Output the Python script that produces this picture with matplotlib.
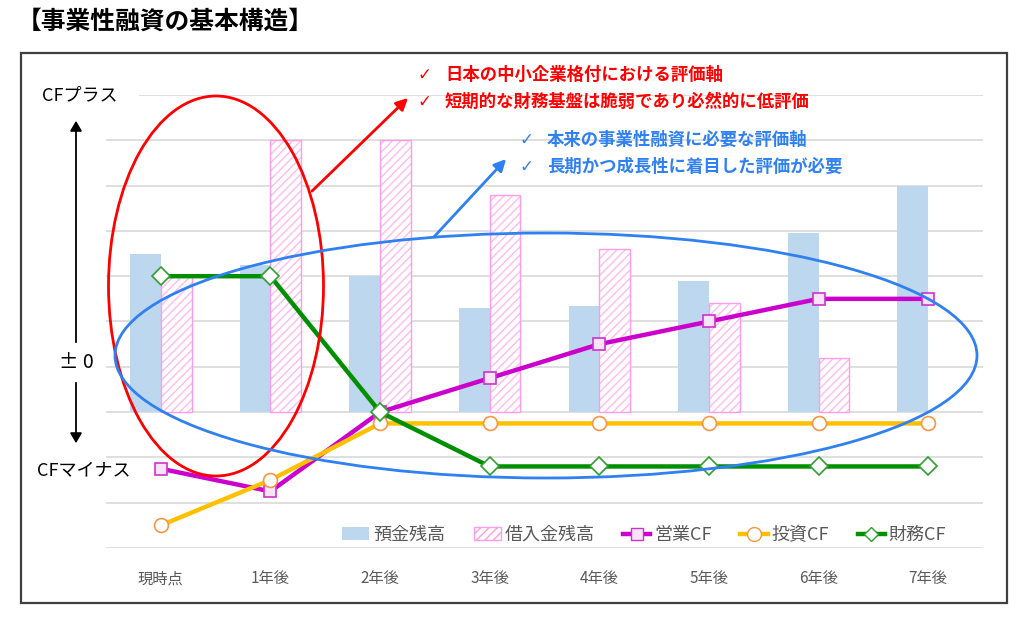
import matplotlib
matplotlib.use("Agg")
import matplotlib.pyplot as plt
import numpy as np
from matplotlib.patches import Ellipse, Rectangle, Patch, FancyArrowPatch
from matplotlib.lines import Line2D

plt.rcParams['font.family'] = ['Noto Sans CJK JP', 'DejaVu Sans']
plt.rcParams['hatch.linewidth'] = 1.0

# ---- data ----
categories = ['現時点', '1年後', '2年後', '3年後', '4年後', '5年後', '6年後', '7年後']
deposits = [3.5, 3.25, 3.0, 2.3, 2.35, 2.9, 3.95, 5.0]
borrowings = [3.0, 6.0, 6.0, 4.8, 3.6, 2.4, 1.2, 0.0]
operating_cf = [-1.25, -1.75, 0.0, 0.75, 1.5, 2.0, 2.5, 2.5]
investing_cf = [-2.5, -1.5, -0.25, -0.25, -0.25, -0.25, -0.25, -0.25]
financing_cf = [3.0, 3.0, 0.0, -1.2, -1.2, -1.2, -1.2, -1.2]
legend_labels = ['預金残高', '借入金残高', '営業CF', '投資CF', '財務CF']
title = '【事業性融資の基本構造】'
red_notes = ['日本の中小企業格付における評価軸', '短期的な財務基盤は脆弱であり必然的に低評価']
blue_notes = ['本来の事業性融資に必要な評価軸', '長期かつ成長性に着目した評価が必要']

W, H = 1024, 618
fig = plt.figure(figsize=(W / 100, H / 100), dpi=100)

def fx(x):
    return x / W

def fy(y):
    return 1 - y / H

hatch_col = '#FFBCEE'
edge_col = '#FF9BE8'

# axes: left 106, right 983, top 95, bottom 548
ax = fig.add_axes([fx(106), fy(548), (983 - 106) / W, (548 - 95) / H])
x = np.arange(len(categories))
bw = 0.28
ax.bar(x - bw / 2, deposits, width=bw, color='#BDD7EE', zorder=2)
mask = np.array(borrowings) > 0
bx = (x + bw / 2)[mask]
bh = np.array(borrowings)[mask]
ax.bar(bx, bh, width=bw, facecolor='white', edgecolor=hatch_col, hatch='////',
       linewidth=0, zorder=2)
ax.bar(bx, bh, width=bw, fill=False, edgecolor=edge_col, linewidth=1.0, zorder=2)

ax.plot(x, operating_cf, color='#CC00CC', lw=3.2, marker='s', ms=9,
        mfc='#FBE3FB', mec='#CC33CC', mew=1.2, zorder=4)
ax.plot(x, investing_cf, color='#FFC000', lw=3.2, marker='o', ms=10,
        mfc='white', mec='#F79646', mew=1.2, zorder=4)
ax.plot(x, financing_cf, color='#008F00', lw=3.2, marker='D', ms=9,
        mfc='white', mec='#2EA02E', mew=1.2, zorder=5)

ax.set_xlim(-0.5, len(categories) - 0.5)
ax.set_ylim(-3, 7)
ax.set_yticks(np.arange(-3, 8, 1))
ax.set_yticklabels([])
ax.tick_params(axis='y', length=0)
ax.set_xticks(x)
ax.set_xticklabels(categories, color='#595959', fontsize=11)
ax.tick_params(axis='x', length=0, pad=16)
ax.grid(axis='y', color='#D9D9D9', lw=1.2, zorder=0)
ax.set_axisbelow(True)
for s in ax.spines.values():
    s.set_visible(False)

# legend
handles = [
    Patch(facecolor='#BDD7EE', edgecolor='none'),
    Patch(facecolor='white', edgecolor=edge_col, hatch='////'),
    Line2D([], [], color='#CC00CC', lw=3.2, marker='s', ms=9, mfc='#FBE3FB', mec='#CC33CC'),
    Line2D([], [], color='#FFC000', lw=3.2, marker='o', ms=10, mfc='white', mec='#F79646'),
    Line2D([], [], color='#008F00', lw=3.2, marker='D', ms=7, mfc='white', mec='#2EA02E'),
]
leg = fig.legend(handles, legend_labels, loc='center', bbox_to_anchor=(fx(644), fy(535)),
                 ncol=5, frameon=False, fontsize=13, handlelength=1.5, handleheight=0.7,
                 handletextpad=0.2, columnspacing=1.6, labelcolor='#595959')

# frame
fig.patches.append(Rectangle((fx(21), fy(603)), fx(1007) - fx(21), fy(53) - fy(603),
                             transform=fig.transFigure, fill=False, edgecolor='#404040',
                             lw=1.6, zorder=1))
# white patch behind CFプラス label
fig.patches.append(Rectangle((fx(100), fy(100)), fx(39), fy(90) - fy(100),
                             transform=fig.transFigure, facecolor='white', edgecolor='none',
                             zorder=1))

# title
fig.text(fx(17), fy(22), title, fontsize=17.8, fontweight='bold', va='center', ha='left')

# left axis labels & arrows
fig.text(fx(42), fy(95), 'CFプラス', fontsize=13, va='center', ha='left', zorder=3)
fig.text(fx(76), fy(363), '± 0', fontsize=14, va='center', ha='center', zorder=3)
fig.text(fx(37), fy(470), 'CFマイナス', fontsize=13, va='center', ha='left', zorder=3)
fig.add_artist(FancyArrowPatch((fx(76), fy(345)), (fx(76), fy(118)),
               transform=fig.transFigure, arrowstyle='-|>,head_length=6,head_width=3.5',
               color='black', lw=1.3, mutation_scale=1, zorder=3))
fig.add_artist(FancyArrowPatch((fx(76), fy(380)), (fx(76), fy(446)),
               transform=fig.transFigure, arrowstyle='-|>,head_length=6,head_width=3.5',
               color='black', lw=1.3, mutation_scale=1, zorder=3))

# ellipses
red = '#FF0000'
blue = '#2F80F0'
fig.add_artist(Ellipse((fx(216), fy(286)), 215 / W, 380 / H, transform=fig.transFigure,
                       fill=False, edgecolor=red, lw=2, zorder=6))
fig.add_artist(Ellipse((fx(546), fy(355.5)), 862 / W, 245 / H, transform=fig.transFigure,
                       fill=False, edgecolor=blue, lw=2, zorder=6))

# pointer arrows
fig.add_artist(FancyArrowPatch((fx(310), fy(193)), (fx(410), fy(96)),
               transform=fig.transFigure, arrowstyle='-|>,head_length=7,head_width=3.5',
               color=red, lw=2, mutation_scale=1, zorder=6))
fig.add_artist(FancyArrowPatch((fx(432), fy(239)), (fx(508), fy(157)),
               transform=fig.transFigure, arrowstyle='-|>,head_length=7,head_width=3.5',
               color=blue, lw=2, mutation_scale=1, zorder=6))

# notes
for i, t in enumerate(red_notes):
    yy = 75 + i * 27
    fig.text(fx(418), fy(yy), '✓', color=red, fontsize=12, va='center', ha='left', zorder=7,
             family=['DejaVu Sans'])
    fig.text(fx(445), fy(yy), t, color=red, fontsize=12.5, fontweight='bold',
             va='center', ha='left', zorder=7)
for i, t in enumerate(blue_notes):
    yy = 140 + i * 27
    fig.text(fx(520), fy(yy), '✓', color=blue, fontsize=12, va='center', ha='left', zorder=7,
             family=['DejaVu Sans'])
    fig.text(fx(547), fy(yy), t, color=blue, fontsize=12.5, fontweight='bold',
             va='center', ha='left', zorder=7)

fig.savefig('out.png', dpi=100)
